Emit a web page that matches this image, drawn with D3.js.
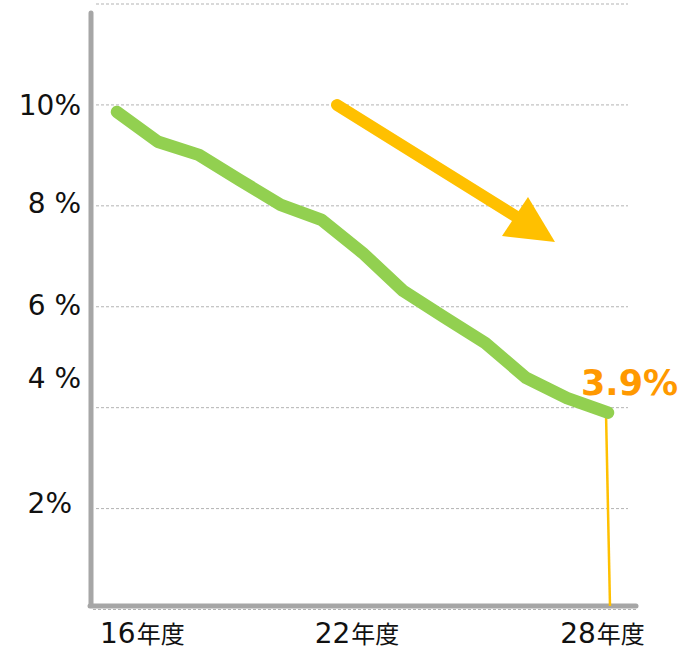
<!DOCTYPE html>
<html>
<head>
<meta charset="utf-8">
<script src="https://cdn.jsdelivr.net/npm/d3@7"></script>
<style>
  html, body { margin: 0; padding: 0; background: #fff; }
  svg { display: block; }
</style>
</head>
<body>
<svg id="chart" width="685" height="650"></svg>
<script>
// ---- data ----
const years = [16, 17, 18, 19, 20, 21, 22, 23, 24, 25, 26, 27, 28];
const rates = [9.86, 9.27, 9.01, 8.51, 8.02, 7.72, 7.07, 6.31, 5.79, 5.28, 4.59, 4.19, 3.9];
const gridValues = [0, 2, 4, 6, 8, 10, 12];
const yTickValues = [2, 4, 6, 8, 10];
const yTickLabels = ["2%", "4 %", "6 %", "8 %", "10%"];
const xTickValues = [16, 22, 28];
const xTickNums = ["16", "22", "28"];
const xTickSuffix = "年度";
const lastLabel = "3.9%";

// ---- drawing ----
const svg = d3.select("#chart");
const x = d3.scaleLinear().domain([16, 28]).range([117, 608]);
const y = d3.scaleLinear().domain([0, 12]).range([609.5, 4]);

const font = "'DejaVu Sans', Verdana, sans-serif";
const axisColor = "#a6a6a6";

// gridlines
svg.append("g").selectAll("line").data(gridValues).join("line")
  .attr("x1", d => d === 0 ? 93 : 96)
  .attr("x2", d => d === 0 ? 636 : 628)
  .attr("y1", d => y(d)).attr("y2", d => y(d))
  .attr("stroke", "#b3b3b3").attr("stroke-width", 1)
  .attr("stroke-dasharray", "3,2");

// axes
svg.append("line")
  .attr("x1", 91).attr("x2", 91).attr("y1", 13).attr("y2", 605)
  .attr("stroke", axisColor).attr("stroke-width", 5).attr("stroke-linecap", "round");
svg.append("line")
  .attr("x1", 90).attr("x2", 636).attr("y1", 606).attr("y2", 606)
  .attr("stroke", axisColor).attr("stroke-width", 5).attr("stroke-linecap", "round");

// y tick labels
const yNudge = {"4 %": -30, "2%": -6, "8 %": -3, "6 %": -2};
svg.append("g").selectAll("text").data(yTickValues).join("text")
  .attr("x", (d, i) => yTickLabels[i] === "2%" ? 72 : 81)
  .attr("y", (d, i) => y(d) + (yNudge[yTickLabels[i]] || 0) + 10)
  .attr("text-anchor", "end")
  .attr("font-family", font).attr("font-size", 28).attr("fill", "#111")
  .text((d, i) => yTickLabels[i]);

// x tick labels
const xl = svg.append("g").selectAll("text").data(xTickValues).join("text")
  .attr("y", 643)
  .attr("font-family", font).attr("fill", "#111");
xl.append("tspan").attr("font-size", 28).text((d, i) => xTickNums[i]);
xl.append("tspan").attr("font-size", 24).attr("dx", 1)
  .attr("font-family", "'Noto Sans CJK JP', sans-serif").text(xTickSuffix);
xl.each(function(d) {
  const w = this.getComputedTextLength();
  let left = x(d) - 6 - w / 2;
  if (left < 100) left = 100;
  d3.select(this).attr("x", left);
});

// drop line at last point
const lastX = x(years[years.length - 1]);
svg.append("line")
  .attr("x1", lastX - 2).attr("y1", y(rates[rates.length - 1]))
  .attr("x2", lastX + 2).attr("y2", 606)
  .attr("stroke", "#FFC000").attr("stroke-width", 2.5);

// main line
svg.append("path")
  .datum(years.map((d, i) => [d, rates[i]]))
  .attr("fill", "none")
  .attr("stroke", "#92D050").attr("stroke-width", 12.5)
  .attr("stroke-linecap", "round").attr("stroke-linejoin", "round")
  .attr("d", d3.line().x(d => x(d[0])).y(d => y(d[1])));

// trend arrow
const ax0 = 337, ay0 = 105, tip = [555, 242];
svg.append("line")
  .attr("x1", ax0).attr("y1", ay0).attr("x2", 520).attr("y2", 219)
  .attr("stroke", "#FFC000").attr("stroke-width", 12).attr("stroke-linecap", "round");
svg.append("path")
  .attr("d", `M${tip[0]},${tip[1]} L528,197 L502,236 Z`)
  .attr("fill", "#FFC000");

// last value label
svg.append("text")
  .attr("x", 581).attr("y", 395)
  .attr("font-family", font).attr("font-weight", "bold")
  .attr("font-size", 35).attr("fill", "#FF9900")
  .text(lastLabel);
</script>
</body>
</html>
